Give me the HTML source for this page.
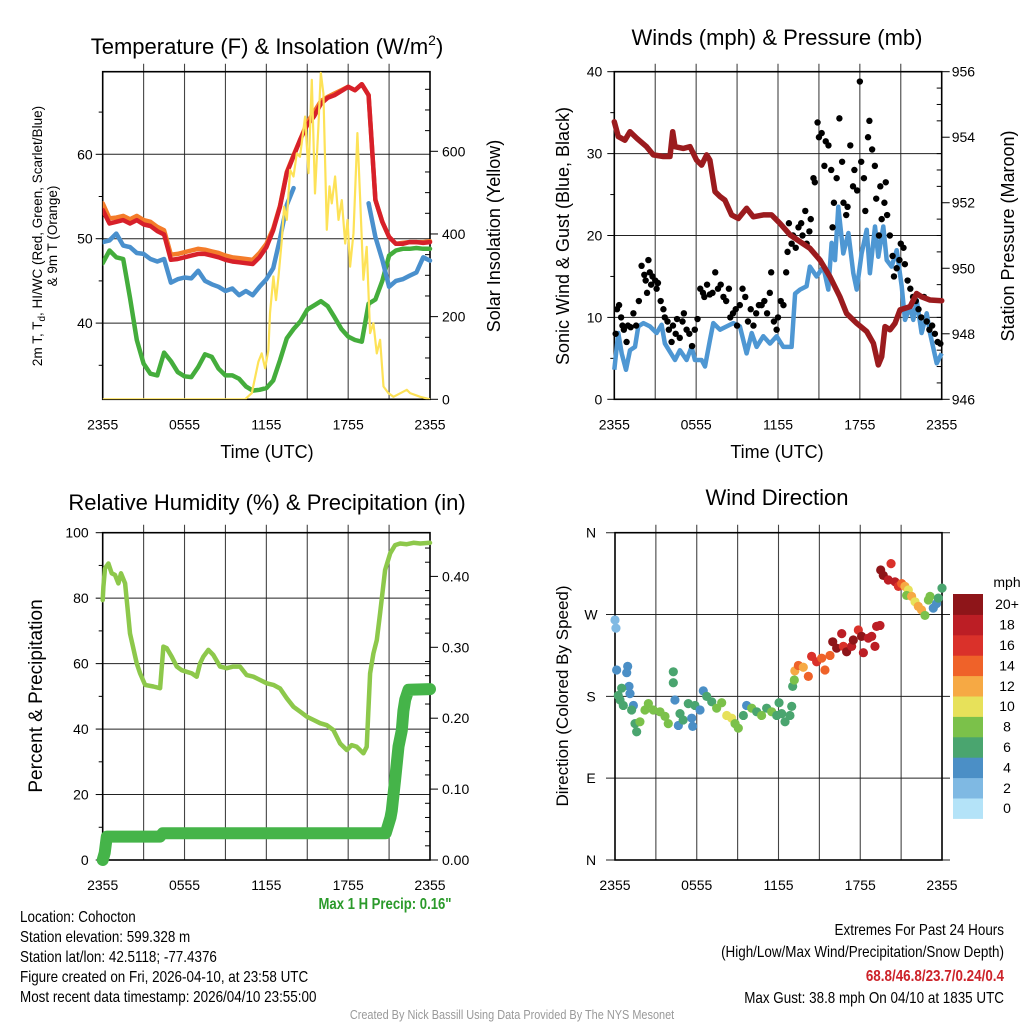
<!DOCTYPE html>
<html><head><meta charset="utf-8">
<style>
html,body{margin:0;padding:0;background:#fff;}
svg{display:block;font-family:"Liberation Sans",sans-serif;}
</style></head>
<body>
<svg id="fig" width="1024" height="1024" viewBox="0 0 1024 1024" xmlns="http://www.w3.org/2000/svg">
<rect width="1024" height="1024" fill="#fff"/>
<g id="p1"></g>
<g id="p2"></g>
<g id="p3"></g>
<g id="p4"></g>

<text x="267" y="54" font-size="22" text-anchor="middle">Temperature (F) &amp; Insolation (W/m<tspan dy="-9" font-size="14">2</tspan><tspan dy="9">)</tspan></text>
<text x="777" y="45" font-size="22" text-anchor="middle">Winds (mph) &amp; Pressure (mb)</text>
<text x="267" y="510" font-size="22" text-anchor="middle">Relative Humidity (%) &amp; Precipitation (in)</text>
<text x="777" y="505" font-size="22" text-anchor="middle">Wind Direction</text>

<text x="267" y="458" font-size="18" text-anchor="middle">Time (UTC)</text>
<text x="777" y="458" font-size="18" text-anchor="middle">Time (UTC)</text>

<text transform="translate(42,236) rotate(-90)" font-size="13.5" text-anchor="middle">2m T, T<tspan dy="3" font-size="10">d</tspan><tspan dy="-3">, HI/WC (Red, Green, Scarlet/Blue)</tspan></text>
<text transform="translate(57,236) rotate(-90)" font-size="13.5" text-anchor="middle">&amp; 9m T (Orange)</text>
<text transform="translate(500,236) rotate(-90)" font-size="18" text-anchor="middle">Solar Insolation (Yellow)</text>
<text transform="translate(569,236) rotate(-90)" font-size="18" text-anchor="middle">Sonic Wind &amp; Gust (Blue, Black)</text>
<text transform="translate(1014,236) rotate(-90)" font-size="18" text-anchor="middle">Station Pressure (Maroon)</text>
<text transform="translate(42,696) rotate(-90)" font-size="19" text-anchor="middle">Percent &amp; Precipitation</text>
<text transform="translate(568,696) rotate(-90)" font-size="17" text-anchor="middle">Direction (Colored By Speed)</text>

<g transform="translate(385,909) scale(0.82,1)"><text x="0" y="0" font-size="16" font-weight="bold" fill="#2a9a2a" text-anchor="middle">Max 1 H Precip: 0.16"</text></g>
<g transform="translate(20,0) scale(0.84,1)" font-size="16">
<text x="0" y="922">Location: Cohocton</text>
<text x="0" y="942">Station elevation: 599.328 m</text>
<text x="0" y="962">Station lat/lon: 42.5118; -77.4376</text>
<text x="0" y="982">Figure created on Fri, 2026-04-10, at 23:58 UTC</text>
<text x="0" y="1002">Most recent data timestamp: 2026/04/10 23:55:00</text>
</g>
<g transform="translate(1004,0) scale(0.84,1)" font-size="16" text-anchor="end">
<text x="0" y="935">Extremes For Past 24 Hours</text>
<text x="0" y="957">(High/Low/Max Wind/Precipitation/Snow Depth)</text>
<text x="0" y="981" font-weight="bold" fill="#cc2229">68.8/46.8/23.7/0.24/0.4</text>
<text x="0" y="1003">Max Gust: 38.8 mph On 04/10 at 1835 UTC</text>
</g>
<g transform="translate(512,1019) scale(0.84,1)"><text x="0" y="0" font-size="13" fill="#999" text-anchor="middle">Created By Nick Bassill Using Data Provided By The NYS Mesonet</text></g>
</svg>
<script>
// ---------- data ----------
const xTickLabels = ["2355","0555","1155","1755","2355"];
const halfHours = [0,0.5,1,1.5,2,2.5,3,3.5,4,4.5,5,5.5,6,6.5,7,7.5,8,8.5,9,9.5,10,10.5,11,11.5,12,12.5,13,13.5,14,14.5,15,15.5,16,16.5,17,17.5,18,18.5,19,19.5,20,20.5,21,21.5,22,22.5,23,23.5,24];
const tempRed = [53.4,51.8,52,52.2,51.8,52.2,51.7,51.5,50.9,50.5,47.5,47.6,47.8,48,48.2,48.2,48,47.8,47.5,47.3,47.2,47.1,47.0,47.8,49,51,53.8,57.8,59.8,61.8,63.5,64.5,66,66.7,67,67.5,68,67.6,68.3,67,54.6,52,50.2,49.4,49.4,49.6,49.6,49.5,49.6];
const tempOrange = [54.2,52.4,52.5,52.7,52.3,52.7,52.2,52.0,51.4,51.0,48.1,48.2,48.4,48.6,48.8,48.7,48.5,48.3,48.0,47.8,47.7,47.6,47.5,48.3,49.4,51.2,53.9,57.9,59.9,61.8,63.8,65,66.3,66.8,67.2,67.6,68,67.6,68.3,67,54.6,52,50.2,49.4,49.5,49.6,49.6,49.6,49.7];
const tempBlue = [49.6,49.8,50.6,49.2,49,48.3,48.2,47.6,47.3,47.6,44.8,45.2,45.4,45.3,46.2,45,44.6,44.3,43.8,44.1,43.3,43.8,43.3,44.3,45.2,46.5,50,54,56,null,null,null,null,null,null,null,null,null,null,54.2,50.2,47.5,44.3,45,45.2,45.6,46,47.8,47.4];
const tempGreen = [47.1,48.6,47.8,47.6,43,38,35.2,34,33.8,36.5,35.5,34.2,33.7,33.6,34.8,36.3,36,34.6,33.8,33.8,33.4,32.5,32,32.1,32.3,33.2,35.6,38.2,39.3,40.2,41.6,42.1,42.6,42,40.7,39.3,38.4,38,37.8,42.3,42.8,45,48,48.6,48.8,48.8,48.9,48.8,48.8];
const solarHours = [0,10.44,10.93,11.42,11.66,11.91,12.15,12.27,12.52,12.71,12.89,13.13,13.30,13.50,13.74,13.99,14.23,14.47,14.84,15.09,15.33,15.57,15.82,15.99,16.18,16.43,16.63,16.80,17.04,17.29,17.53,17.78,17.95,18.14,18.39,18.68,18.88,19.12,19.36,19.61,19.85,20.10,20.34,20.59,20.95,21.32,22.30,22.54,23.28,24];
const solarValues = [0,0,15,91,111,75,119,208,297,240,297,385,466,434,555,539,595,587,684,547,773,498,660,790,740,410,515,474,539,434,482,377,434,321,402,644,482,289,369,160,184,111,144,31,15,6,23,15,6,0];
const tempTicks = [40,50,60];
const solarTicks = [0,200,400,600];

const windHours = [0,.29,.54,.86,1.15,1.52,1.76,2.13,2.61,3.10,3.47,3.71,4.45,4.81,5.30,5.67,5.91,6.40,6.65,7.01,7.26,7.75,8.24,8.72,9.21,9.70,10.07,10.43,10.92,11.41,11.90,12.39,13.00,13.25,13.61,14.10,14.34,14.83,15.32,15.69,15.93,16.18,16.42,16.79,17.16,17.52,17.77,18.13,18.50,18.74,19.11,19.35,19.72,19.97,20.33,20.70,21.07,21.31,21.68,21.92,22.17,22.53,22.90,23.14,23.63,24];
const windSpeeds = [3.6,8.1,5.6,3.6,6.0,6.4,8.9,9.3,8.9,8.1,9.1,6.8,4.8,6.0,4.8,6.4,4.8,4.8,4.0,7.2,9.3,8.5,8.9,9.3,8.9,5.6,8.1,6.4,7.7,6.8,7.7,6.4,6.4,12.9,13.4,13.8,16.2,15.0,16.2,13.4,19.1,17.0,23.5,17.8,20.3,15.4,13.4,17.8,20.7,15.4,21.1,17.4,21.1,17.0,16.2,18.2,13.8,9.7,11.3,9.7,12.1,8.1,10.5,8.1,4.4,5.6];
const gustHours = [0.1,0.2,0.35,0.5,0.6,0.7,0.9,1,1.2,1.4,1.6,1.8,2.0,2.2,2.3,2.4,2.5,2.6,2.7,2.8,3.0,3.1,3.2,3.4,3.6,3.7,3.9,4.0,4.2,4.3,4.5,4.6,4.8,5.0,5.1,5.3,5.5,5.7,5.9,6.1,6.3,6.5,6.6,6.8,7.0,7.2,7.4,7.6,7.8,8.0,8.2,8.4,8.5,8.7,8.9,9.0,9.2,9.4,9.6,9.8,10.0,10.2,10.4,10.6,10.8,11.0,11.2,11.4,11.5,11.7,11.9,12.0,12.2,12.4,12.6,12.7,12.8,13.0,13.1,13.3,13.5,13.7,13.8,14.0,14.1,14.3,14.4,14.6,14.7,14.9,15.0,15.2,15.4,15.5,15.7,15.9,16.0,16.1,16.3,16.5,16.7,16.8,17.0,17.1,17.3,17.5,17.6,17.8,18.0,18.1,18.3,18.4,18.6,18.7,18.9,19.1,19.2,19.4,19.5,19.6,19.8,19.9,20.0,20.2,20.4,20.5,20.7,20.9,21.0,21.2,21.3,21.5,21.7,21.9,22.1,22.3,22.5,22.7,22.9,23.1,23.3,23.5,23.7,23.9];
const gustSpeeds = [8,11,11.5,10,9,8.5,7,9,8.8,10.5,9,12,16.3,15.2,14.5,13,17,15.5,14,15,14.5,13.5,14.2,12,11,10,9.5,8.5,7,9,8,9.8,7.5,9.5,10.5,8.5,8,6.5,8.5,9.8,13.5,13,12.5,14,12.8,13,15.5,13.5,14,12.5,12,13.5,10,10.5,11,9,11.5,13.5,12.5,9.5,11,9,10.5,11.5,11.5,12,10.5,13,15.5,9.5,8.5,10,12,11.5,15.5,18,21.5,19,20,18.5,21,21.5,20,23,19,20.5,22,27,26.5,33.8,32,32.5,28.5,31.5,31,28,21,24,27,34.3,29,24,22.5,23.5,31,26,28,25.5,38.8,29,27,23,32,34,30.5,28.5,24.5,20,26,22,24,26.5,22.5,20,17.5,15,16,17,19,18.5,16.5,14.5,13.5,12.5,12,11,10,12.5,9.5,8.5,9,8,7,6.8];
const pressHours = [0,.29,.78,1.15,1.64,2.37,2.86,3.59,4.08,4.28,4.45,5.06,5.55,6.03,6.40,6.77,7.01,7.38,7.75,8.11,8.60,9.09,9.70,10.19,10.92,11.53,12.15,12.88,13.61,14.34,15.08,15.81,16.54,17.03,17.77,18.50,18.99,19.35,19.60,19.84,20.21,20.58,20.94,21.68,22.16,22.53,23.14,24];
const pressValues = [954.47,954.02,953.91,954.17,953.97,953.71,953.46,953.41,953.41,954.17,953.71,953.66,953.71,953.30,953.15,953.46,953.30,952.34,952.19,952.08,951.63,951.52,951.83,951.57,951.63,951.63,951.37,951.02,950.81,950.61,950.25,949.74,949.13,948.62,948.32,948.07,947.71,947.05,947.30,948.22,948.12,948.32,948.73,948.83,949.23,949.13,949.03,949.01];
const windTicks = [0,10,20,30,40];
const pressTicks = [946,948,950,952,954,956];

const rhHours = [0,.05,.17,.42,.66,.90,1.15,1.34,1.64,1.81,2.00,2.49,2.74,3.11,3.72,4.21,4.45,4.69,5.06,5.43,5.79,6.16,6.53,6.89,7.14,7.38,7.75,8.12,8.61,9.10,9.58,10.07,10.56,11.05,11.54,12.03,12.52,13.01,13.50,13.99,14.48,14.96,15.45,15.94,16.43,16.92,17.41,17.90,18.26,18.63,19.12,19.36,19.61,19.85,20.10,20.34,20.71,21.08,21.44,21.81,22.30,22.79,23.28,24];
const rhValues = [79.4,83.5,89.1,90.6,87.6,87.1,84.5,87.6,84.5,77.4,69.2,60.1,57.0,53.5,53.0,52.5,65.2,64.7,62.1,59.1,58.0,57.5,57.0,56.0,60.1,62.1,64.2,62.6,59.1,58.6,59.1,59.1,56.5,56.0,55.0,54.0,53.5,52.4,49.4,46.8,45.3,43.8,42.8,41.8,41.2,39.7,35.6,33.6,35.1,34.6,32.6,34.6,57.0,63.1,67.2,75.4,88.6,93.7,96.2,96.7,96.5,96.9,96.7,96.9];
const precipHours = [0,0.15,0.3,4.2,4.4,20.75,20.95,21.1,21.2,21.44,21.69,21.93,22.05,22.18,22.42,24];
const precipValues = [0,0.01,0.033,0.033,0.0376,0.0376,0.05,0.06,0.07,0.113,0.16,0.183,0.21,0.226,0.24,0.241];
const rhTicks = [0,20,40,60,80,100];
const precipTicks = ["0.00","0.10","0.20","0.30","0.40"];

const dirHours = [0,0.07,0.12,0.93,0.86,1.03,1.1,0.24,0.49,0.37,0.61,1.35,1.22,1.47,1.59,1.83,2.2,2.45,2.81,3.3,3.67,3.91,4.28,4.28,4.4,4.65,4.77,5.0,5.38,5.63,5.7,5.87,6.24,6.48,6.73,7.1,7.46,7.83,8.2,8.56,8.81,9.05,9.42,9.66,10.03,10.4,10.76,11.13,11.5,11.87,12.04,12.23,12.48,12.84,12.97,13.04,13.16,13.2,13.46,13.82,14.19,14.43,14.8,15.17,15.41,15.78,15.98,16.27,16.64,16.76,17.0,17.37,17.49,17.86,18.1,18.23,18.59,18.84,19.08,19.2,19.45,19.5,19.69,20.06,20.26,20.55,20.8,21.04,21.28,21.53,21.4,21.77,22.02,22.26,22.5,22.75,23.0,23.12,23.36,23.6,23.73,24];
const dirValues = [264,255,209,213,206,191,183,181,189,176,170,170,165,150,141,152,165,172,165,163,158,150,195,207,176,148,161,154,172,156,147,170,165,186,180,174,167,173,159,156,150,145,159,170,167,163,159,167,163,159,173,161,152,159,169,191,198,208,214,212,202,224,218,222,209,225,240,233,249,235,229,235,242,253,246,228,244,246,235,257,258,319,313,308,326,306,301,304,301,297,291,290,284,279,275,269,286,290,277,282,288,299];
const dirSpeeds = [2,3,4,4,4,4,4,6,6,6,6,4,6,6,6,8,8,8,8,8,8,8,6,6,4,4,6,6,6,4,4,6,4,4,6,6,8,8,10,10,8,8,6,4,8,6,8,6,8,6,6,6,6,6,6,6,8,12,14,12,14,16,16,14,14,14,20,20,18,16,20,18,20,16,20,18,18,18,18,18,18,20,20,18,16,18,16,14,12,10,8,12,10,12,12,8,8,8,4,4,6,6];
const dirTickLabels = ["N","E","S","W","N"];
const speedBins = ["0","2","4","6","8","10","12","14","16","18","20+"];
const binColors = ["#b4e3f8","#7fb9e3","#4b8fc6","#4aa56f","#7bc14a","#e7e15a","#f6a944","#ef6229","#da312a","#bc1e25","#8e1519"];

// ---------- helpers ----------
const NS = "http://www.w3.org/2000/svg";
function mk(parent, tag, attrs){ const e=document.createElementNS(NS,tag); for(const k in attrs) e.setAttribute(k,attrs[k]); parent.appendChild(e); return e; }
function linScale(d0,d1,r0,r1){ return v => r0 + (v-d0)*(r1-r0)/(d1-d0); }
function pathFrom(xs, ys, sx, sy){
  let d="", pen=false;
  for(let i=0;i<xs.length;i++){
    if(ys[i]===null){pen=false;continue;}
    d += (pen?"L":"M") + sx(xs[i]).toFixed(1)+","+sy(ys[i]).toFixed(1);
    pen=true;
  }
  return d;
}
function frame(g, x0, x1, y0, y1, sx, gridYs, extendL, extendR){
  for(let h=3; h<24; h+=3){
    const gl = mk(g,"line",{x1:sx(h),x2:sx(h),y1:y0-8,y2:y1,stroke:"#444","stroke-width":1.1});
    
    
  }
  gridYs.forEach(y=>{
    const hl = mk(g,"line",{x1:x0-(extendL||0),x2:x1+(extendR||0),y1:y,y2:y,stroke:"#222","stroke-width":1});
    
    
  });
  const b = mk(g,"rect",{x:x0,y:y0,width:x1-x0,height:y1-y0,fill:"none",stroke:"#000","stroke-width":1.6});
  
  
  xTickLabels.forEach((t,i)=>{
    const x = sx(i*6);
    const tx = mk(g,"text",{x:x,y:y1+30,"font-size":14,"text-anchor":"middle"});
    tx.textContent=t;
    
    
  });
}
function label(g, x, y, txt, anchor, size){
  const t = mk(g,"text",{x:x,y:y+5,"font-size":size||14,"text-anchor":anchor});
  t.textContent = txt;
  
  
  return t;
}
function tick(g,x1,x2,y){ const l=mk(g,"line",{x1:x1,x2:x2,y1:y,y2:y,stroke:"#000","stroke-width":1});
    }

// ---------- panel 1 ----------
(function(){
  const g=document.getElementById("p1");
  const X0=102.7,X1=430,Y0=71.7,Y1=399.3;
  const sx=linScale(0,24,X0,X1), sy=linScale(50,60,238.7,154.3), sr=linScale(0,600,399.3,151.3);
  frame(g,X0,X1,Y0,Y1,sx,tempTicks.map(sy));
  tempTicks.forEach(v=>{tick(g,X0-7,X0,sy(v)); label(g,X0-10,sy(v),String(v),"end");});
  for(let v=35;v<70;v+=10) tick(g,X0-4,X0,sy(v));
  solarTicks.forEach(v=>{tick(g,X1,X1+8,sr(v)); label(g,X1+12,sr(v),String(v),"start");});
  for(let v=50;v<790;v+=50) if(v%200) tick(g,X1-5,X1,sr(v));
  const clip = mk(g,"clipPath",{id:"c1"}); mk(clip,"rect",{x:X0,y:Y0-4,width:X1-X0+4,height:Y1-Y0+4});
  const s = mk(g,"g",{"clip-path":"url(#c1)"});
  const lines=[[tempGreen,"#44ad3c","dewpoint-line"],[tempBlue,"#4a90cd","windchill-line"],[tempOrange,"#f47c2a","9m-temperature-line"],[tempRed,"#d7202a","2m-temperature-line"]];
  lines.forEach(([ys,c,n])=>{
    const p=mk(s,"path",{d:pathFrom(halfHours,ys,sx,sy),fill:"none",stroke:c,"stroke-width":4.5,"stroke-linejoin":"round","stroke-linecap":"round"});
    
    
  });
  const y=mk(s,"path",{d:pathFrom(solarHours,solarValues,sx,sr),fill:"none",stroke:"#fde257","stroke-width":2.2,"stroke-linejoin":"round"});
  
  
})();

// ---------- panel 2 ----------
(function(){
  const g=document.getElementById("p2");
  const X0=614.3,X1=941.7,Y0=71.7,Y1=399.3;
  const sx=linScale(0,24,X0,X1), sy=linScale(0,40,Y1,Y0), sp=linScale(946,956,Y1,Y0);
  frame(g,X0,X1,Y0,Y1,sx,[10,20,30].map(sy));
  windTicks.forEach(v=>{tick(g,X0-7,X0,sy(v)); label(g,X0-12,sy(v),String(v),"end");});
  for(let v=5;v<40;v+=10) tick(g,X0-4,X0,sy(v));
  pressTicks.forEach(v=>{tick(g,X1,X1+8,sp(v)); label(g,X1+10,sp(v),String(v),"start");});
  for(let v=946.5;v<956;v+=0.5) if(v%2) tick(g,X1-5,X1,sp(v));
  const w=mk(g,"path",{d:pathFrom(windHours,windSpeeds,sx,sy),fill:"none",stroke:"#4e97d3","stroke-width":4.5,"stroke-linejoin":"round"});
  
  
  gustHours.forEach((h,i)=>{
    const c=mk(g,"circle",{cx:sx(h),cy:sy(gustSpeeds[i]),r:3.2,fill:"#000"});
    
    
  });
  const p=mk(g,"path",{d:pathFrom(pressHours,pressValues,sx,sp),fill:"none",stroke:"#9b1b1e","stroke-width":5.5,"stroke-linejoin":"round","stroke-linecap":"round"});
  
  
})();

// ---------- panel 3 ----------
(function(){
  const g=document.getElementById("p3");
  const X0=102.7,X1=430,Y0=532.7,Y1=860;
  const sx=linScale(0,24,X0,X1), sy=linScale(0,100,Y1,Y0), sp=linScale(0,0.1,Y1,789.1);
  frame(g,X0,X1,Y0,Y1,sx,[20,40,60,80].map(sy));
  rhTicks.forEach(v=>{tick(g,X0-7,X0,sy(v)); label(g,X0-14,sy(v),String(v),"end");});
  for(let v=10;v<100;v+=20) tick(g,X0-4,X0,sy(v));
  precipTicks.forEach(v=>{tick(g,X1,X1+8,sp(+v)); label(g,X1+12,sp(+v),v,"start");});
  for(let v=0.02;v<0.46;v+=0.02) if(Math.abs(v*10-Math.round(v*10))>0.01) tick(g,X1-5,X1,sp(v));
  const r=mk(g,"path",{d:pathFrom(rhHours,rhValues,sx,sy),fill:"none",stroke:"#8dc84b","stroke-width":4.5,"stroke-linejoin":"round","stroke-linecap":"round"});
  
  
  const pr=mk(g,"path",{d:pathFrom(precipHours,precipValues,sx,sp),fill:"none",stroke:"#45b449","stroke-width":12,"stroke-linejoin":"round","stroke-linecap":"round"});
  
  
})();

// ---------- panel 4 ----------
(function(){
  const g=document.getElementById("p4");
  const X0=615,X1=942,Y0=532.7,Y1=860;
  const sx=linScale(0,24,X0,X1), sy=linScale(0,360,Y1,Y0);
  frame(g,X0,X1,Y0,Y1,sx,[0,90,180,270,360].map(sy),9,8);
  dirTickLabels.forEach((t,i)=>{ label(g,591,sy(i*90),t,"middle",14); });
  dirHours.forEach((h,i)=>{
    const b=Math.min(10,Math.floor(dirSpeeds[i]/2));
    const c=mk(g,"circle",{cx:sx(h),cy:sy(dirValues[i]),r:4.6,fill:binColors[b]});
    
    
  });
  const cb=mk(g,"g",{});  
  const top=594, bh=20.4;
  speedBins.forEach((lab,i)=>{
    const y=top+(10-i)*bh;
    const r=mk(cb,"rect",{x:953,y:y,width:30,height:bh+0.5,fill:binColors[i]});
    
    
    const t=mk(cb,"text",{x:1007,y:y+bh/2+5,"font-size":14,"text-anchor":"middle"});
    t.textContent=lab;
    
    
  });
  const u=mk(cb,"text",{x:1007,y:587,"font-size":14,"text-anchor":"middle"});
  u.textContent="mph";
  
  
})();
</script>
</body></html>
